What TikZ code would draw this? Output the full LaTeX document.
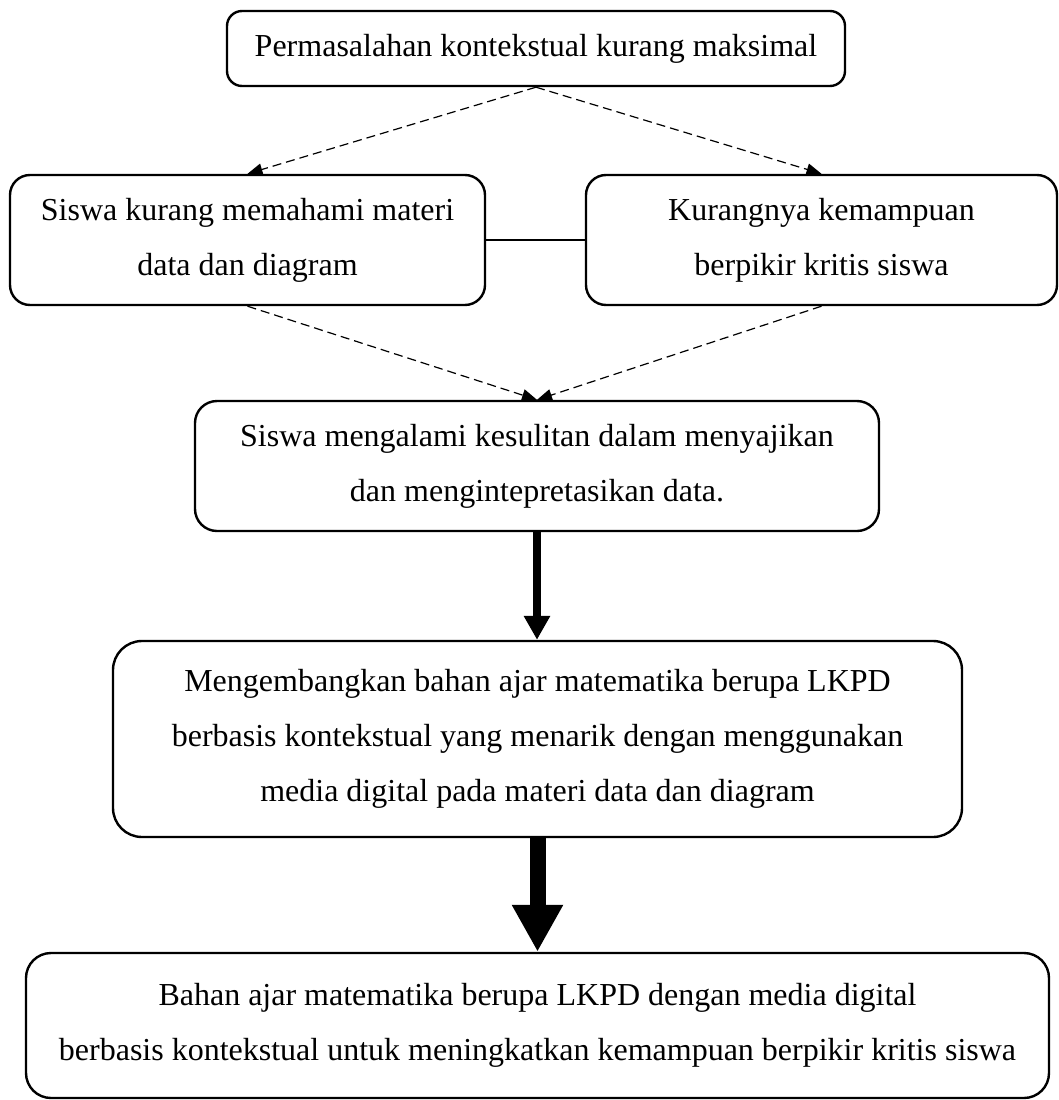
\documentclass[tikz,border=0pt]{standalone}
\usepackage{fontspec}
\setmainfont{Liberation Serif}
\usetikzlibrary{arrows.meta}
\begin{document}
\begin{tikzpicture}[x=1pt,y=-1pt,
    box/.style={draw,line width=2.4pt,rounded corners=18pt,align=center,inner sep=0pt,font=\fontsize{32}{55}\selectfont},
    dasharrow/.style={line width=1.2pt,dash pattern=on 9pt off 5pt,-{Triangle[length=15pt,width=12pt]}},
    thinarrow/.style={line width=8pt,-{Triangle[length=24pt,width=25pt]}},
    fatarrow/.style={line width=16pt,-{Triangle[length=47pt,width=48pt]}}]
    \useasboundingbox (0,0) rectangle (1059,1100);

    \node[box,minimum width=618pt,minimum height=75pt,rounded corners=15pt] (masalah) at (536,48.5) {Permasalahan kontekstual kurang maksimal};
    \node[box,minimum width=475pt,minimum height=130pt,rounded corners=20pt] (paham) at (247.5,240) {Siswa kurang memahami materi\\data dan diagram};
    \node[box,minimum width=471pt,minimum height=130pt,rounded corners=20pt] (kritis) at (821.5,240) {Kurangnya kemampuan\\berpikir kritis siswa};
    \node[box,minimum width=684pt,minimum height=130pt,rounded corners=22pt] (sulit) at (537,466) {Siswa mengalami kesulitan dalam menyajikan\\dan mengintepretasikan data.};
    \node[box,minimum width=849pt,minimum height=196pt,rounded corners=29pt] (kembang) at (537.5,739) {Mengembangkan bahan ajar matematika berupa LKPD\\berbasis kontekstual yang menarik dengan menggunakan\\media digital pada materi data dan diagram};
    \node[box,minimum width=1023pt,minimum height=145pt,rounded corners=25pt] (hasil) at (537.5,1025.5) {Bahan ajar matematika berupa LKPD dengan media digital\\berbasis kontekstual untuk meningkatkan kemampuan berpikir kritis siswa};

    \draw[dasharrow] (masalah.south) -- (paham.north);
    \draw[dasharrow] (masalah.south) -- (kritis.north);
    \draw[line width=1.2pt] (paham.east) -- (kritis.west);
    \draw[dasharrow] (paham.south) -- (sulit.north);
    \draw[dasharrow] (kritis.south) -- (sulit.north);
    \draw[thinarrow] (sulit.south) -- (sulit.south |- kembang.north);
    \draw[fatarrow] (kembang.south) -- (kembang.south |- hasil.north);
\end{tikzpicture}
\end{document}
